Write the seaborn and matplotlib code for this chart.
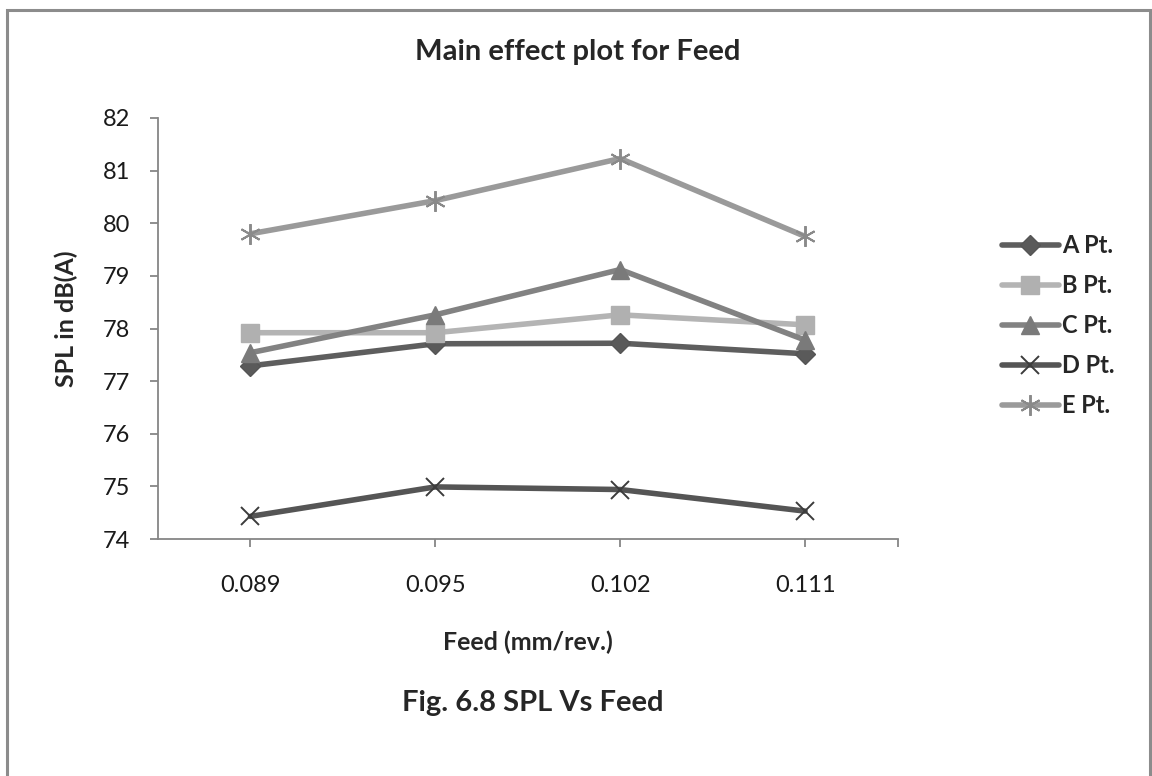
import matplotlib
matplotlib.use("Agg")
import matplotlib.pyplot as plt
import seaborn as sns
import pandas as pd
from matplotlib.patches import Rectangle

feed = ["0.089", "0.095", "0.102", "0.111"]
a_pt = [77.29, 77.71, 77.72, 77.52]
b_pt = [77.92, 77.92, 78.26, 78.07]
c_pt = [77.54, 78.26, 79.12, 77.78]
d_pt = [74.43, 74.99, 74.94, 74.53]
e_pt = [79.80, 80.43, 81.23, 79.75]
series_names = ["A Pt.", "B Pt.", "C Pt.", "D Pt.", "E Pt."]

sns.set_theme(style="white")
plt.rcParams['font.family'] = ['Lato', 'DejaVu Sans']

rows = []
for name, vals in zip(series_names, [a_pt, b_pt, c_pt, d_pt, e_pt]):
    for f, v in zip(feed, vals):
        rows.append({"Feed": f, "SPL": v, "Series": name})
df = pd.DataFrame(rows)

styles = {
    "A Pt.": dict(color="#5e5e5e", marker="D", markersize=10, mec="#555555", mfc="#5a5a5a", mew=1),
    "B Pt.": dict(color="#b4b4b4", marker="s", markersize=13, mec="#b0b0b0", mfc="#b0b0b0", mew=1),
    "C Pt.": dict(color="#828282", marker="^", markersize=13, mec="#7a7a7a", mfc="#7a7a7a", mew=1),
    "D Pt.": dict(color="#555555", marker="x", markersize=13, mec="#3c3c3c", mfc="none", mew=1.4),
    "E Pt.": dict(color="#9a9a9a", marker=(6, 2, 0), markersize=15, mec="#8a8a8a", mfc="none", mew=1.4),
}

fig = plt.figure(figsize=(11.52, 7.76), dpi=100)
ax = fig.add_axes([158/1152, 1-539/776, (897.5-158)/1152, (539-118)/776])

for name in series_names:
    sub = df[df["Series"] == name]
    s = styles[name]
    sns.lineplot(data=sub, x="Feed", y="SPL", ax=ax, color=s["color"], lw=4,
                 marker=s["marker"], markersize=s["markersize"], markeredgecolor=s["mec"],
                 markerfacecolor=s["mfc"], markeredgewidth=s["mew"], label=name,
                 solid_capstyle="round", sort=False)

ax.set_xlim(-0.5, 3.5)
ax.set_ylim(74, 82)
ax.set_yticks(range(74, 83))
ax.set_xticks(range(len(feed)))
ax.set_xticklabels(feed)
ax.set_xticks([3.5], minor=True)
for sp in ["top", "right"]:
    ax.spines[sp].set_visible(False)
for sp in ["left", "bottom"]:
    ax.spines[sp].set_color("#868686")
    ax.spines[sp].set_linewidth(1.3)
ax.tick_params(axis="both", which="both", direction="out", length=6, width=1.3, color="#868686",
               labelsize=17, labelcolor="#1a1a1a", left=True, bottom=True)
ax.tick_params(axis="x", pad=20)
ax.tick_params(axis="y", pad=14)
ax.set_xlabel("Feed (mm/rev.)", fontsize=18, fontweight="bold", labelpad=25)
ax.set_ylabel("SPL in dB(A)", fontsize=18, fontweight="bold")
ax.yaxis.set_label_coords((78-158)/739.5, (539-319)/421)
ax.grid(False)

leg = ax.legend(loc="upper left", bbox_to_anchor=(1002/1152, 1-234/776), bbox_transform=fig.transFigure,
                frameon=False, handlelength=2.4, handletextpad=0.15, labelspacing=0.72,
                prop={"weight": "bold", "size": 17}, borderaxespad=0, borderpad=0)

fig.text(578/1152, 1-52/776, "Main effect plot for Feed", ha="center", va="center",
         fontsize=21, fontweight="bold")
fig.text(533/1152, 1-703/776, "Fig. 6.8 SPL Vs Feed", ha="center", va="center",
         fontsize=21, fontweight="bold")

fig.patches.append(Rectangle((7/1152, -0.05), (1150-7)/1152, 1.05-10/776, transform=fig.transFigure,
                             fill=False, edgecolor="#8c8c8c", linewidth=2.2))

fig.savefig("out.png", dpi=100)
